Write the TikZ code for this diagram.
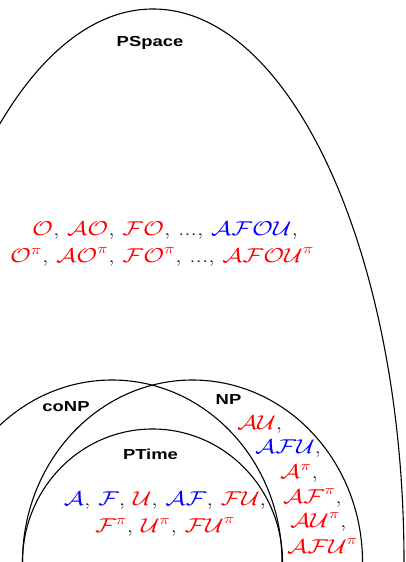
\RequirePackage{fix-cm}
\documentclass[tikz,border=0pt]{standalone}
\usepackage{fontspec}
\setsansfont{Liberation Sans}
\usepackage{graphicx}
\usepackage{xcolor}

% letters are set a little wider than their natural shape
\newcommand{\wide}[1]{\scalebox{1.27}[1]{#1}}
\newcommand{\rd}[1]{\textcolor{red}{$#1$}}
\newcommand{\bl}[1]{\textcolor{blue}{$#1$}}

\tikzset{
  region/.style={line width=1.1pt, black},
  classname/.style={font=\sffamily\bfseries\fontsize{14.5}{17}\selectfont,
    inner sep=0pt, anchor=base},
  members/.style={font=\fontsize{20}{27}\selectfont, inner sep=0pt, anchor=base},
  memberleft/.style={members, anchor=base west},
}

\begin{document}
\begin{tikzpicture}[x=1pt,y=-1pt]
  \clip (0,0) rectangle (405,562);

  % complexity classes
  \draw[region] (153,562) ellipse [x radius=251, y radius=553];   % PSpace
  \draw[region] (112,562) ellipse [x radius=170, y radius=182];   % coNP
  \draw[region] (192.5,562) ellipse [x radius=170, y radius=182]; % NP
  \draw[region] (152.5,562) ellipse [x radius=130, y radius=133]; % PTime

  % class names
  \node[classname] (pspace) at (150,46)  {\wide{PSpace}};
  \node[classname] (conp)   at (66,411)  {\wide{coNP}};
  \node[classname] (np)     at (228.5,404) {\wide{NP}};
  \node[classname] (ptime)  at (150.5,459) {\wide{PTime}};

  % PSpace members
  \node[members] (psA) at (165,235)
    {\wide{\rd{\mathcal{O}}, \rd{\mathcal{AO}}, \rd{\mathcal{FO}}, ..., \bl{\mathcal{AFOU}},}};
  \node[members] (psB) at (162,262)
    {\wide{\rd{\mathcal{O}^\pi}, \rd{\mathcal{AO}^\pi}, \rd{\mathcal{FO}^\pi}, ..., \rd{\mathcal{AFOU}^\pi}}};

  % PTime members
  \node[members] (ptA) at (165,505)
    {\wide{\bl{\mathcal{A}}, \bl{\mathcal{F}}, \rd{\mathcal{U}}, \bl{\mathcal{AF}}, \rd{\mathcal{FU}},}};
  \node[members] (ptB) at (165,532)
    {\wide{\rd{\mathcal{F}^\pi}, \rd{\mathcal{U}^\pi}, \rd{\mathcal{FU}^\pi}}};

  % NP members
  \node[memberleft] (npA) at (237,429) {\wide{\rd{\mathcal{AU}},}};
  \node[memberleft] (npB) at (255,453) {\wide{\bl{\mathcal{AFU}},}};
  \node[memberleft] (npC) at (280,478) {\wide{\rd{\mathcal{A}^\pi},}};
  \node[memberleft] (npD) at (283,503) {\wide{\rd{\mathcal{AF}^\pi},}};
  \node[memberleft] (npE) at (290,527) {\wide{\rd{\mathcal{AU}^\pi},}};
  \node[memberleft] (npF) at (287,553) {\wide{\rd{\mathcal{AFU}^\pi}}};
\end{tikzpicture}
\end{document}
